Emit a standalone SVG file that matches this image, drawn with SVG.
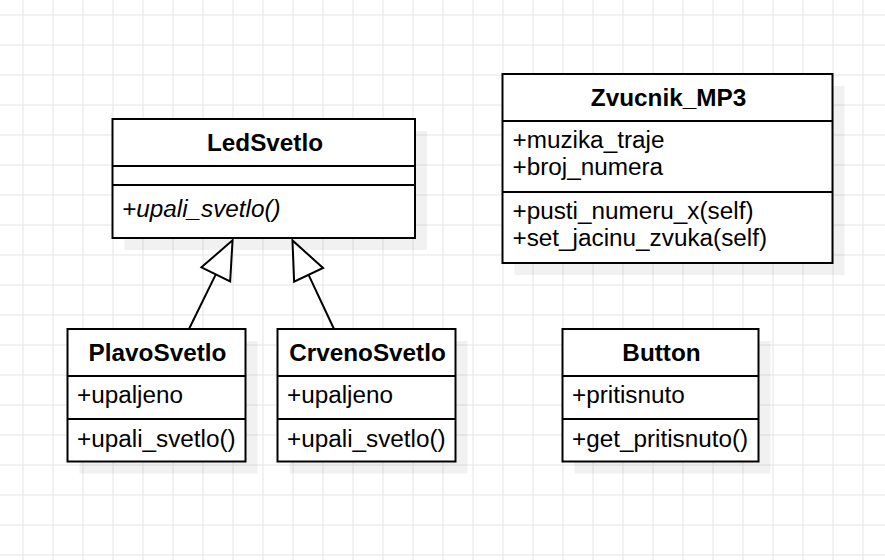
<svg xmlns="http://www.w3.org/2000/svg" width="885" height="560" viewBox="0 0 885 560">
<defs>
<pattern id="gridpat" x="22.5" y="14.5" width="30" height="30" patternUnits="userSpaceOnUse">
<path d="M0.5,0 V30 M0,0.5 H30" fill="none" stroke="#e4e4e4" stroke-width="1"/>
</pattern>
<marker id="inh" markerUnits="userSpaceOnUse" markerWidth="42" markerHeight="36" refX="1" refY="18" orient="auto" viewBox="0 0 42 36" overflow="visible">
<path d="M1,2 L39,18 L1,34 Z" fill="#fff" stroke="#000" stroke-width="2" stroke-linejoin="miter"/>
</marker>
</defs>
<style>
.box{fill:#fff;stroke:#000;stroke-width:2}
.shadow{fill:#000;fill-opacity:0.055}
.div{stroke:#000;stroke-width:2}
text{font-family:"Liberation Sans",Arial,Helvetica,sans-serif;font-size:23px;fill:#000}
.title{font-weight:bold;text-anchor:middle}
.ital{font-style:italic}
.conn{fill:none;stroke:#000;stroke-width:2;marker-end:url(#inh)}
</style>
<rect x="0" y="0" width="885" height="560" fill="#fff"/>
<rect x="0" y="0" width="885" height="560" fill="url(#gridpat)"/>

<g id="LedSvetlo">
<rect class="shadow" x="124.5" y="131" width="302.5" height="119"/>
<rect class="box" x="112.5" y="119" width="302.5" height="119"/>
<line class="div" x1="112.5" y1="166" x2="415" y2="166"/>
<line class="div" x1="112.5" y1="185" x2="415" y2="185"/>
<text class="title" x="265" y="151" textLength="116" lengthAdjust="spacingAndGlyphs">LedSvetlo</text>
<text class="ital" x="122" y="217" textLength="158.7" lengthAdjust="spacingAndGlyphs">+upali_svetlo()</text>
</g>

<g id="Zvucnik_MP3">
<rect class="shadow" x="514.5" y="86" width="330" height="189"/>
<rect class="box" x="502.5" y="74" width="330" height="189"/>
<line class="div" x1="502.5" y1="121" x2="832.5" y2="121"/>
<line class="div" x1="502.5" y1="192" x2="832.5" y2="192"/>
<text class="title" x="668.5" y="105.5" textLength="155.3" lengthAdjust="spacingAndGlyphs">Zvucnik_MP3</text>
<text x="512.5" y="147.5" textLength="151.9" lengthAdjust="spacingAndGlyphs">+muzika_traje</text>
<text x="512.5" y="174.5" textLength="150.6" lengthAdjust="spacingAndGlyphs">+broj_numera</text>
<text x="512.5" y="219" textLength="241" lengthAdjust="spacingAndGlyphs">+pusti_numeru_x(self)</text>
<text x="512.5" y="246" textLength="254.6" lengthAdjust="spacingAndGlyphs">+set_jacinu_zvuka(self)</text>
</g>

<g id="PlavoSvetlo">
<rect class="shadow" x="79.5" y="341" width="178" height="132.5"/>
<rect class="box" x="67.5" y="329" width="178" height="132.5"/>
<line class="div" x1="67.5" y1="376" x2="245.5" y2="376"/>
<line class="div" x1="67.5" y1="419" x2="245.5" y2="419"/>
<text class="title" x="157.5" y="361" textLength="137.8" lengthAdjust="spacingAndGlyphs">PlavoSvetlo</text>
<text x="77" y="403" textLength="106" lengthAdjust="spacingAndGlyphs">+upaljeno</text>
<text x="77" y="446.5" textLength="158.7" lengthAdjust="spacingAndGlyphs">+upali_svetlo()</text>
</g>

<g id="CrvenoSvetlo">
<rect class="shadow" x="289.5" y="341" width="178" height="132.5"/>
<rect class="box" x="277.5" y="329" width="178" height="132.5"/>
<line class="div" x1="277.5" y1="376" x2="455.5" y2="376"/>
<line class="div" x1="277.5" y1="419" x2="455.5" y2="419"/>
<text class="title" x="367.5" y="361" textLength="156.6" lengthAdjust="spacingAndGlyphs">CrvenoSvetlo</text>
<text x="287" y="403" textLength="106" lengthAdjust="spacingAndGlyphs">+upaljeno</text>
<text x="287" y="446.5" textLength="158.7" lengthAdjust="spacingAndGlyphs">+upali_svetlo()</text>
</g>

<g id="Button">
<rect class="shadow" x="574.5" y="341" width="196" height="132.5"/>
<rect class="box" x="562.5" y="329" width="196" height="132.5"/>
<line class="div" x1="562.5" y1="376" x2="758.5" y2="376"/>
<line class="div" x1="562.5" y1="419" x2="758.5" y2="419"/>
<text class="title" x="661.5" y="361" textLength="78.3" lengthAdjust="spacingAndGlyphs">Button</text>
<text x="572" y="403" textLength="112.8" lengthAdjust="spacingAndGlyphs">+pritisnuto</text>
<text x="572" y="446.5" textLength="176.2" lengthAdjust="spacingAndGlyphs">+get_pritisnuto()</text>
</g>

<g id="connectors">
<path class="conn" d="M189,329 L215.8,274.4"/>
<path class="conn" d="M334,329 L308.6,274.8"/>
</g>
</svg>
